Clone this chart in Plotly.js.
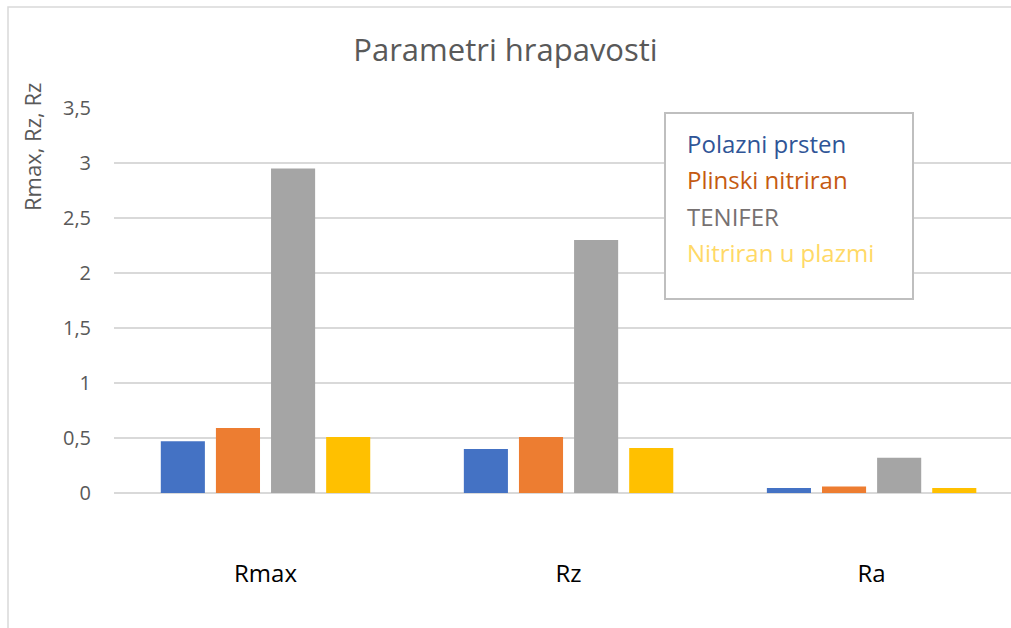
<!DOCTYPE html>
<html>
<head>
<meta charset="utf-8">
<script src="https://cdn.plot.ly/plotly-3.0.1.min.js"></script>
<style>
  html, body { margin: 0; padding: 0; background: #fff; }
  #chart { width: 1011px; height: 628px; }
</style>
</head>
<body>
<div id="chart"></div>
<script>
// Data
const categories = ["Rmax", "Rz", "Ra"];
const seriesNames = ["Polazni prsten", "Plinski nitriran", "TENIFER", "Nitriran u plazmi"];
const polazniPrsten = [0.47, 0.40, 0.045];
const plinskiNitriran = [0.59, 0.51, 0.06];
const tenifer = [2.95, 2.30, 0.32];
const nitriranUPlazmi = [0.51, 0.41, 0.045];
const yTickVals = [0, 0.5, 1, 1.5, 2, 2.5, 3, 3.5];
const yTickText = ["0", "0,5", "1", "1,5", "2", "2,5", "3", "3,5"];

const barColors = ["#4472C4", "#ED7D31", "#A5A5A5", "#FFC000"];
const legendColors = ["#2F5597", "#C55A11", "#767171", "#FFD966"];
const seriesValues = [polazniPrsten, plinskiNitriran, tenifer, nitriranUPlazmi];

const font = "Open Sans, Noto Sans, Liberation Sans, sans-serif";

const traces = seriesValues.map((vals, i) => ({
  type: "bar",
  name: seriesNames[i],
  x: categories,
  y: vals,
  marker: { color: barColors[i] },
  showlegend: false,
  hoverinfo: "x+y+name"
}));

// Legend drawn as coloured text inside a box
const L = 114, T = 108, W = 897, H = 385;
function px2x(px) { return (px - L) / W; }
function py2y(py) { return (T + H - py) / H; }

const annotations = seriesNames.map((n, i) => ({
  xref: "paper", yref: "paper",
  x: px2x(685), y: py2y(143 + i * 36.5),
  xanchor: "left", yanchor: "middle",
  text: n, showarrow: false,
  font: { family: font, size: 24, color: legendColors[i] }
}));
annotations.push({
  xref: "paper", yref: "paper",
  x: px2x(32), y: py2y(147),
  xanchor: "center", yanchor: "middle",
  text: "Rmax, Rz, Rz", textangle: -90, showarrow: false,
  font: { family: font, size: 22, color: "#595959" }
});

const layout = {
  width: 1011, height: 628,
  margin: { l: L, r: 0, t: T, b: 628 - T - H },
  paper_bgcolor: "#fff", plot_bgcolor: "#fff",
  title: {
    text: "Parametri hrapavosti",
    font: { family: font, size: 31, color: "#595959" },
    x: 0.5, xref: "container", xanchor: "center",
    y: 1 - 50 / 628, yanchor: "middle"
  },
  barmode: "group",
  bargap: 0.2725,
  bargroupgap: 0.2,
  xaxis: {
    type: "category",
    range: [-0.5, 2.46],
    showgrid: false, zeroline: false, showline: false,
    ticks: "",
    ticklabelstandoff: 64,
    tickfont: { family: font, size: 24, color: "#000" }
  },
  yaxis: {
    range: [0, 3.5],
    tickvals: yTickVals, ticktext: yTickText,
    showgrid: true, gridcolor: "#D9D9D9", gridwidth: 1.5,
    zeroline: true, zerolinecolor: "#D9D9D9", zerolinewidth: 1.5,
    showline: false, ticks: "",
    ticklabelstandoff: 22,
    tickfont: { family: font, size: 20, color: "#595959" }
  },
  annotations: annotations,
  shapes: [
    { type: "rect", xref: "paper", yref: "paper",
      x0: px2x(665), x1: px2x(913), y0: py2y(299), y1: py2y(113),
      line: { color: "#BFBFBF", width: 2 }, fillcolor: "rgba(255,255,255,1)", layer: "above" },
    { type: "rect", xref: "paper", yref: "paper",
      x0: px2x(8), x1: px2x(1040), y0: py2y(660), y1: py2y(7),
      line: { color: "#D9D9D9", width: 1.5 }, fillcolor: "rgba(0,0,0,0)", layer: "below" }
  ]
};

Plotly.newPlot("chart", traces, layout, { displayModeBar: false, staticPlot: true });
</script>
</body>
</html>
